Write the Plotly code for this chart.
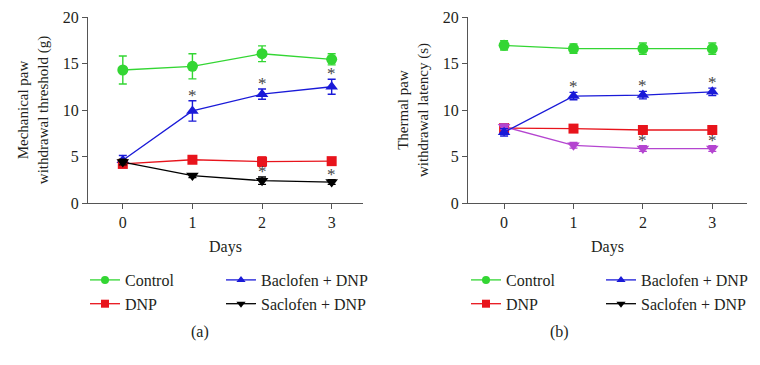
import plotly.graph_objects as go

days = [0, 1, 2, 3]

# Panel (a): mechanical paw withdrawal threshold (g)
mech_control = [14.3, 14.7, 16.05, 15.45]
mech_control_err = [1.5, 1.35, 0.85, 0.6]
mech_baclofen = [4.6, 9.9, 11.7, 12.5]
mech_baclofen_err = [0.5, 1.1, 0.55, 0.8]
mech_dnp = [4.2, 4.65, 4.45, 4.5]
mech_dnp_err = [0.35, 0.3, 0.5, 0.3]
mech_saclofen = [4.4, 2.95, 2.4, 2.25]
mech_saclofen_err = [0.3, 0.2, 0.4, 0.25]
mech_sig_baclofen = [False, True, True, True]
mech_sig_saclofen = [False, False, True, True]

# Panel (b): thermal paw withdrawal latency (s)
therm_control = [16.95, 16.6, 16.6, 16.6]
therm_control_err = [0.5, 0.5, 0.6, 0.6]
therm_baclofen = [7.6, 11.5, 11.6, 11.95]
therm_baclofen_err = [0.4, 0.4, 0.4, 0.4]
therm_dnp = [8.05, 8.0, 7.85, 7.85]
therm_dnp_err = [0.3, 0.3, 0.3, 0.3]
therm_saclofen = [8.2, 6.2, 5.85, 5.85]
therm_saclofen_err = [0.3, 0.3, 0.3, 0.3]
therm_sig_baclofen = [False, True, True, True]
therm_sig_saclofen = [False, False, True, True]

# Legend keys (same for both panels): name, colour, symbol, column
legend_names = ["Control", "DNP", "Baclofen + DNP", "Saclofen + DNP"]

GREEN = "#33d633"
RED = "#e8141c"
BLUE = "#1a1ad8"
BLACK = "#000000"
MAGENTA = "#b445d0"
FONT = "Liberation Serif"
TXT = "#231f20"
AX = "#555555"

legend_colors = [GREEN, RED, BLUE, BLACK]
legend_symbols = ["circle", "square", "triangle-up", "triangle-down"]

# the page body has an 8px margin; size the figure to fit the 760x365 window
OFF = 8
W, H = 760 - 2 * OFF, 365 - 2 * OFF


def px(x):
    return (x - OFF) / W


def py(y):
    return 1 - (y - OFF) / H


fig = go.Figure()


def add(x, y, err, name, color, symbol, size, xa, ya):
    fig.add_trace(go.Scatter(
        x=x, y=y, name=name, mode="lines+markers",
        xaxis=xa, yaxis=ya, showlegend=False,
        line=dict(color=color, width=1.3),
        marker=dict(color=color, symbol=symbol, size=size),
        error_y=dict(type="data", array=err, color=color, thickness=1.4, width=4),
    ))


# Panel a
add(days, mech_control, mech_control_err, "Control", GREEN, "circle", 11, "x", "y")
add(days, mech_baclofen, mech_baclofen_err, "Baclofen + DNP", BLUE, "triangle-up", 11, "x", "y")
add(days, mech_dnp, mech_dnp_err, "DNP", RED, "square", 10, "x", "y")
add(days, mech_saclofen, mech_saclofen_err, "Saclofen + DNP", BLACK, "triangle-down", 11, "x", "y")

# Panel b
add(days, therm_control, therm_control_err, "Control", GREEN, "circle", 11, "x2", "y2")
add(days, therm_dnp, therm_dnp_err, "DNP", RED, "square", 10, "x2", "y2")
add(days, therm_saclofen, therm_saclofen_err, "Saclofen + DNP", MAGENTA, "triangle-down", 11, "x2", "y2")
add(days, therm_baclofen, therm_baclofen_err, "Baclofen + DNP", BLUE, "triangle-up", 11, "x2", "y2")

# Legend-only keys (smaller markers, as in the reference)
for panel, (la, lb), xa, ya in [("a", ("legend", "legend2"), "x", "y"),
                                ("b", ("legend3", "legend4"), "x2", "y2")]:
    for i, (name, color, symbol) in enumerate(zip(legend_names, legend_colors, legend_symbols)):
        fig.add_trace(go.Scatter(x=[None], y=[None], name=name, mode="lines+markers",
                                 xaxis=xa, yaxis=ya, legend=la if i < 2 else lb,
                                 line=dict(color=color, width=1.3),
                                 marker=dict(color=color, symbol=symbol, size=8)))

# Significance asterisks
anns = []
def stars(vals, errs, sig, xref, yref):
    for d, v, e, s in zip(days, vals, errs, sig):
        if s:
            anns.append(dict(x=d, y=v + e, xref=xref, yref=yref, text="*", showarrow=False,
                             yanchor="bottom", yshift=-6,
                             font=dict(family=FONT, size=17, color="#444444")))

stars(mech_baclofen, mech_baclofen_err, mech_sig_baclofen, "x", "y")
stars(mech_saclofen, mech_saclofen_err, mech_sig_saclofen, "x", "y")
stars(therm_baclofen, therm_baclofen_err, therm_sig_baclofen, "x2", "y2")
stars(therm_saclofen, therm_saclofen_err, therm_sig_saclofen, "x2", "y2")

for label, xp in [("(a)", 189), ("(b)", 571)]:
    anns.append(dict(x=px(xp), y=py(332), xref="paper", yref="paper", text=label,
                     showarrow=False, yanchor="middle",
                     font=dict(family=FONT, size=16, color=TXT)))

ydom = [py(203), py(17)]

axis_common = dict(showline=True, linecolor=AX, linewidth=1.2, ticks="outside",
                   ticklen=5, tickcolor=AX, tickwidth=1.2, showgrid=False, zeroline=False,
                   tickfont=dict(family=FONT, size=16, color=TXT))

leg_common = dict(orientation="v", xanchor="left", yanchor="top", tracegroupgap=0,
                  font=dict(family=FONT, size=16, color=TXT), bgcolor="rgba(0,0,0,0)",
                  itemwidth=30, traceorder="normal")
legend_top = py(263)

fig.update_layout(
    width=W, height=H,
    margin=dict(l=0, r=0, t=0, b=0, autoexpand=False),
    paper_bgcolor="white", plot_bgcolor="white",
    font=dict(family=FONT, size=16, color=TXT),
    xaxis=dict(domain=[px(88), px(363)], range=[-0.5, 3.45], tickvals=days, anchor="y",
               title=dict(text="Days", font=dict(family=FONT, size=16, color=TXT), standoff=10),
               **axis_common),
    yaxis=dict(domain=ydom, range=[0, 20], tickvals=[0, 5, 10, 15, 20], anchor="x",
               title=dict(text="Mechanical paw<br>withdrawal threshold (g)",
                          font=dict(family=FONT, size=15, color=TXT), standoff=10),
               **axis_common),
    xaxis2=dict(domain=[px(468), px(747)], range=[-0.52, 3.5], tickvals=days, anchor="y2",
                title=dict(text="Days", font=dict(family=FONT, size=16, color=TXT), standoff=10),
                **axis_common),
    yaxis2=dict(domain=ydom, range=[0, 20], tickvals=[0, 5, 10, 15, 20], anchor="x2",
                title=dict(text="Thermal paw<br>withdrawal latency (s)",
                           font=dict(family=FONT, size=15, color=TXT), standoff=10),
                **axis_common),
    legend=dict(x=px(85), y=legend_top, **leg_common),
    legend2=dict(x=px(221), y=legend_top, **leg_common),
    legend3=dict(x=px(466), y=legend_top, **leg_common),
    legend4=dict(x=px(601), y=legend_top, **leg_common),
    annotations=anns,
)

fig.write_html("out.html")
